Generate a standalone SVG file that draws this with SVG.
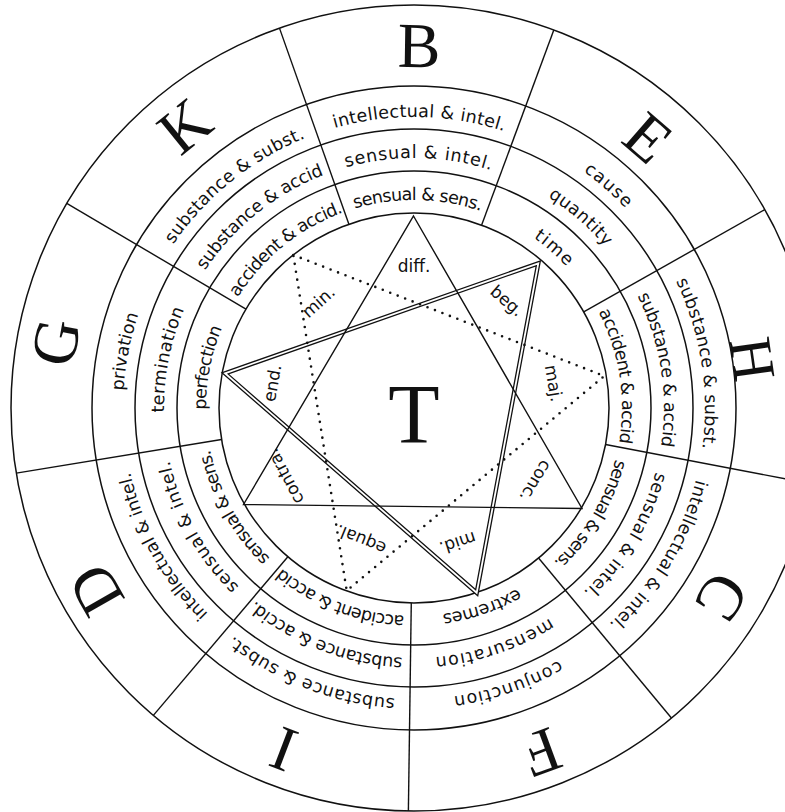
<svg xmlns="http://www.w3.org/2000/svg" width="785" height="812" viewBox="0 0 785 812">
<style>
.c{fill:none;stroke:#111;stroke-width:1.5}
.d{stroke:#111;stroke-width:1.4}
.rt{font-family:"DejaVu Sans",sans-serif;font-size:17.5px;fill:#111;text-anchor:middle}
.lt{font-family:"Liberation Serif",serif;font-size:64px;fill:#111;text-anchor:middle}
.tl{font-family:"DejaVu Sans",sans-serif;font-size:17px;fill:#111;text-anchor:middle}
.dbl1{fill:none;stroke:#111;stroke-width:4.4;stroke-linejoin:miter}
.dbl2{fill:none;stroke:#fff;stroke-width:1.8;stroke-linejoin:miter}
.sol{fill:none;stroke:#111;stroke-width:1.4}
.dot{fill:none;stroke:#111;stroke-width:2.6;stroke-linecap:round;stroke-dasharray:0 8}
</style>
<defs>
<path id="p1" d="M414 616A208 208 0 0 1 414 200A208 208 0 0 1 414 616A208 208 0 0 1 414 200A208 208 0 0 1 414 616"/>
<path id="p2" d="M414 658A250 250 0 0 1 414 158A250 250 0 0 1 414 658A250 250 0 0 1 414 158A250 250 0 0 1 414 658"/>
<path id="p3" d="M414 699A291 291 0 0 1 414 117A291 291 0 0 1 414 699A291 291 0 0 1 414 117A291 291 0 0 1 414 699"/>
</defs>
<rect x="0" y="0" width="785" height="812" fill="#fff"/>
<g id="rings">
<circle class="c" cx="414" cy="408" r="403"/>
<circle class="c" cx="414" cy="408" r="322"/>
<circle class="c" cx="414" cy="408" r="279"/>
<circle class="c" cx="414" cy="408" r="237"/>
<circle class="c" cx="414" cy="408" r="195"/>
</g>
<g id="dividers">
<line class="d" x1="414" y1="213" x2="414" y2="5" transform="rotate(20.3 414 408)"/>
<line class="d" x1="414" y1="213" x2="414" y2="5" transform="rotate(60.5 414 408)"/>
<line class="d" x1="414" y1="213" x2="414" y2="5" transform="rotate(100.8 414 408)"/>
<line class="d" x1="414" y1="213" x2="414" y2="5" transform="rotate(140.3 414 408)"/>
<line class="d" x1="414" y1="213" x2="414" y2="5" transform="rotate(180.8 414 408)"/>
<line class="d" x1="414" y1="213" x2="414" y2="5" transform="rotate(220.3 414 408)"/>
<line class="d" x1="414" y1="213" x2="414" y2="5" transform="rotate(260.7 414 408)"/>
<line class="d" x1="414" y1="213" x2="414" y2="5" transform="rotate(300.5 414 408)"/>
<line class="d" x1="414" y1="213" x2="414" y2="5" transform="rotate(340.5 414 408)"/>
</g>
<g id="sector-B">
<text class="lt" x="414" y="67" transform="rotate(0.8 414 408)">B</text>
<text class="rt"><textPath href="#p3" startOffset="25.15%" textLength="172" lengthAdjust="spacing">intellectual &amp; intel.</textPath></text>
<text class="rt"><textPath href="#p2" startOffset="25.15%" textLength="147" lengthAdjust="spacing">sensual &amp; intel.</textPath></text>
<text class="rt"><textPath href="#p1" startOffset="25.15%" textLength="128" lengthAdjust="spacing">sensual &amp; sens.</textPath></text>
</g>
<g id="sector-E">
<text class="lt" x="414" y="72" transform="rotate(40.9 414 408)">E</text>
<text class="rt"><textPath href="#p3" startOffset="30.71%" textLength="56" lengthAdjust="spacing">cause</textPath></text>
<text class="rt"><textPath href="#p2" startOffset="30.71%" textLength="76" lengthAdjust="spacing">quantity</textPath></text>
<text class="rt"><textPath href="#p1" startOffset="30.71%" textLength="44" lengthAdjust="spacing">time</textPath></text>
</g>
<g id="sector-H">
<text class="lt" x="414" y="86" font-size="60" style="font-size:60px" transform="rotate(81.8 414 408)">H</text>
<text class="rt"><textPath href="#p3" startOffset="36.26%" textLength="172" lengthAdjust="spacing">substance &amp; subst.</textPath></text>
<text class="rt"><textPath href="#p2" startOffset="36.26%" textLength="155" lengthAdjust="spacing">substance &amp; accid</textPath></text>
<text class="rt"><textPath href="#p1" startOffset="36.26%" textLength="135" lengthAdjust="spacing">accident &amp; accid</textPath></text>
</g>
<g id="sector-C">
<text class="lt" x="414" y="68" transform="rotate(121.5 414 408)">C</text>
<text class="rt"><textPath href="#p3" startOffset="41.82%" textLength="171" lengthAdjust="spacing">intellectual &amp; intel.</textPath></text>
<text class="rt"><textPath href="#p2" startOffset="41.82%" textLength="142" lengthAdjust="spacing">sensual &amp; intel.</textPath></text>
<text class="rt"><textPath href="#p1" startOffset="41.82%" textLength="122" lengthAdjust="spacing">sensual &amp; sens.</textPath></text>
</g>
<g id="sector-F">
<text class="lt" x="414" y="62" transform="rotate(159.7 414 408)">F</text>
<text class="rt"><textPath href="#p3" startOffset="47.38%" textLength="112" lengthAdjust="spacing">conjunction</textPath></text>
<text class="rt"><textPath href="#p2" startOffset="47.38%" textLength="122" lengthAdjust="spacing">mensuration</textPath></text>
<text class="rt"><textPath href="#p1" startOffset="47.38%" textLength="80" lengthAdjust="spacing">extremes</textPath></text>
</g>
<g id="sector-I">
<text class="lt" x="414" y="64" transform="rotate(200.9 414 408)">I</text>
<text class="rt"><textPath href="#p3" startOffset="52.93%" textLength="176" lengthAdjust="spacing">substance &amp; subst.</textPath></text>
<text class="rt"><textPath href="#p2" startOffset="52.93%" textLength="161" lengthAdjust="spacing">substance &amp; accid.</textPath></text>
<text class="rt"><textPath href="#p1" startOffset="52.93%" textLength="134" lengthAdjust="spacing">accident &amp; accid</textPath></text>
</g>
<g id="sector-D">
<text class="lt" x="414" y="63" transform="rotate(240.2 414 408)">D</text>
<text class="rt"><textPath href="#p3" startOffset="58.49%" textLength="164" lengthAdjust="spacing">intellectual &amp; intel.</textPath></text>
<text class="rt"><textPath href="#p2" startOffset="58.49%" textLength="146" lengthAdjust="spacing">sensual &amp; intel.</textPath></text>
<text class="rt"><textPath href="#p1" startOffset="58.49%" textLength="126" lengthAdjust="spacing">sensual &amp; sens.</textPath></text>
</g>
<g id="sector-G">
<text class="lt" x="414" y="65" transform="rotate(280.4 414 408)">G</text>
<text class="rt"><textPath href="#p3" startOffset="64.04%" textLength="78" lengthAdjust="spacing">privation</textPath></text>
<text class="rt"><textPath href="#p2" startOffset="64.04%" textLength="106" lengthAdjust="spacing">termination</textPath></text>
<text class="rt"><textPath href="#p1" startOffset="64.04%" textLength="84" lengthAdjust="spacing">perfection</textPath></text>
</g>
<g id="sector-K">
<text class="lt" x="414" y="66" transform="rotate(320.9 414 408)">K</text>
<text class="rt"><textPath href="#p3" startOffset="69.60%" textLength="172" lengthAdjust="spacing">substance &amp; subst.</textPath></text>
<text class="rt"><textPath href="#p2" startOffset="69.60%" textLength="155" lengthAdjust="spacing">substance &amp; accid</textPath></text>
<text class="rt"><textPath href="#p1" startOffset="69.60%" textLength="138" lengthAdjust="spacing">accident &amp; accid.</textPath></text>
</g>
<g id="connectors">
<polygon class="dbl1" points="225,373.3 538.3,263.3 476.7,592.7"/>
<polygon class="dbl2" points="225,373.3 538.3,263.3 476.7,592.7"/>
<polygon class="sol" points="413.5,216 582,508.5 243.5,504.5"/>
<polygon class="dot" points="293.3,255 604.3,376 346.7,590.7"/>
</g>
<g id="labels">
<text class="tl" x="414" y="272" transform="rotate(0 414 408)">diff.</text>
<text class="tl" x="414" y="272" transform="rotate(41 414 408)">beg.</text>
<text class="tl" x="414" y="272" transform="rotate(80 414 408)">maj.</text>
<text class="tl" x="414" y="272" transform="rotate(121 414 408)">conc.</text>
<text class="tl" x="414" y="272" transform="rotate(162 414 408)">mid.</text>
<text class="tl" x="414" y="272" transform="rotate(202 414 408)">equal.</text>
<text class="tl" x="414" y="268" transform="rotate(242 414 408)">contra.</text>
<text class="tl" x="414" y="270" transform="rotate(280 414 408)">end.</text>
<text class="tl" x="414" y="271" transform="rotate(318 414 408)">min.</text>
</g>
<g id="center-T">
<text x="414" y="443" font-family="Liberation Serif, serif" font-size="84" fill="#111" text-anchor="middle">T</text>
</g>
</svg>
